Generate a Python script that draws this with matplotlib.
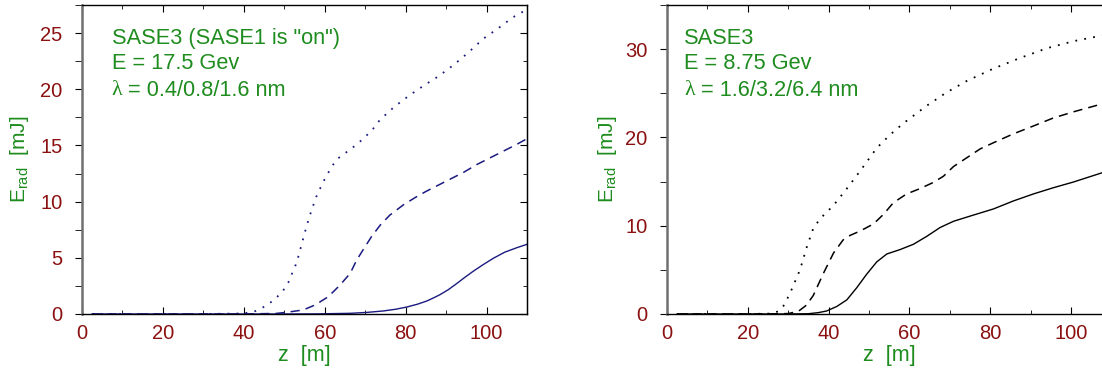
import numpy as np
import matplotlib.pyplot as plt
from matplotlib.ticker import MultipleLocator

plt.rcParams['font.family'] = ['Liberation Sans', 'DejaVu Sans']

# left panel: SASE3 with SASE1 on, E = 17.5 GeV
zl_dot = [2.5, 30, 40, 42.8, 44.8, 46.9, 49.4, 51.0, 53.1, 54.6, 55.5, 56.8, 58.0, 59.7, 61.7, 63.1, 65.0, 66.7,
          68.6, 70.4, 72.0, 73.7, 77.4, 81.1, 84.8, 88.3, 92.0, 95.6, 99.2, 102.8, 106.5, 110]
el_dot = [0, 0, 0.05, 0.25, 0.6, 1.1, 1.9, 2.8, 4.6, 6.6, 7.8, 9.3, 10.5, 11.8, 13.1, 13.8, 14.3, 14.75,
          15.3, 15.9, 16.5, 17.3, 18.5, 19.5, 20.4, 21.2, 22.2, 23.3, 24.5, 25.4, 26.4, 27.1]
zl_dash = [2.5, 40, 48, 50.6, 54.7, 57.6, 60.9, 63.8, 66.3, 67.9, 70.0, 71.6, 73.7, 76.1, 79.4, 82.3,
           85.0, 88.0, 91.0, 94.3, 97.6, 100.9, 104.2, 107.5, 110]
el_dash = [0, 0, 0.05, 0.15, 0.36, 0.8, 1.54, 2.58, 3.62, 4.8, 6.0, 6.9, 7.9, 8.8, 9.7, 10.35,
           10.9, 11.45, 12.0, 12.6, 13.3, 13.9, 14.5, 15.1, 15.6]
zl_sol = [2.5, 50, 58, 66.3, 70.4, 74.5, 77.5, 80.3, 83.0, 85.2, 87.0, 88.5, 90.5, 92.6, 94.6, 96.7, 99.2,
          101.7, 104.5, 107.5, 110]
el_sol = [0, 0, 0.01, 0.06, 0.14, 0.27, 0.42, 0.62, 0.88, 1.15, 1.45, 1.72, 2.15, 2.7, 3.25, 3.8, 4.4,
          4.96, 5.5, 5.9, 6.2]

# right panel: SASE3, E = 8.75 GeV
zr_dot = [2.5, 20, 26.0, 27.5, 28.8, 30.4, 32.9, 34.6, 36.2, 37.9, 41.2, 44.5, 47.8, 51.9, 55.2, 58.5,
          64.3, 69.2, 74.2, 80.8, 87.4, 94.0, 100.6, 107.2, 110]
er_dot = [0, 0, 0.05, 0.3, 0.9, 2.3, 5.0, 7.6, 9.7, 10.8, 12.3, 14.2, 16.2, 18.8, 20.3, 21.6,
          23.6, 25.1, 26.4, 27.8, 29.0, 30.1, 30.9, 31.5, 31.7]
zr_dash = [2.5, 25, 30, 32.5, 34.5, 36.2, 38.7, 41.2, 43.6, 45.3, 47.8, 51.1, 53.6, 56.0, 59.3, 62.6,
           65.9, 68.4, 70.9, 74.2, 77.5, 80.8, 85.7, 90.7, 95.6, 100.6, 107.7, 110]
er_dash = [0, 0, 0.05, 0.3, 1.0, 2.1, 4.6, 6.9, 8.4, 8.9, 9.4, 10.2, 11.3, 12.6, 13.6, 14.2,
           14.9, 15.6, 16.7, 17.7, 18.7, 19.4, 20.4, 21.3, 22.2, 22.9, 23.8, 24.1]
zr_sol = [2.5, 30, 35, 37.4, 39.5, 42.0, 44.5, 47.0, 49.4, 51.9, 54.4, 57.7, 61.0, 64.3, 67.6, 70.9,
          75.8, 80.8, 85.7, 90.7, 95.6, 100.6, 107.7, 110]
er_sol = [0, 0, 0.03, 0.15, 0.34, 0.85, 1.6, 3.0, 4.5, 5.9, 6.8, 7.3, 7.9, 8.8, 9.8, 10.5,
          11.2, 11.9, 12.8, 13.6, 14.3, 14.95, 16.0, 16.4]

red = '#8b1111'
green = '#1e8c1e'
navy = '#1a1a80'

fig = plt.figure(figsize=(11.02, 3.75), dpi=100)
ax1 = fig.add_axes([0.0744, 0.1627, 0.4038, 0.824])
ax2 = fig.add_axes([0.6053, 0.1627, 0.4033, 0.824])


def style(ax, ymax, ymaj, ymin, ylab_x):
    ax.set_xlim(0, 110)
    ax.set_ylim(0, ymax)
    ax.xaxis.set_major_locator(MultipleLocator(20))
    ax.xaxis.set_minor_locator(MultipleLocator(10))
    ax.yaxis.set_major_locator(MultipleLocator(ymaj))
    ax.yaxis.set_minor_locator(MultipleLocator(ymin))
    ax.tick_params(axis='x', which='both', direction='in', top=True,
                   labelcolor=red, labelsize=14.5, pad=7)
    ax.tick_params(axis='x', which='major', length=5)
    ax.tick_params(axis='x', which='minor', length=3)
    ax.tick_params(axis='y', which='both', direction='out', left=True, right=False, length=5,
                   labelcolor=red, labelsize=14.5, pad=9)
    ax.spines['left'].set_color('#707070')
    ax.spines['left'].set_linewidth(1.8)
    for s in ['top', 'bottom', 'right']:
        ax.spines[s].set_linewidth(1.0)
    # inward ticks on the right side
    sec = ax.secondary_yaxis('right')
    sec.yaxis.set_major_locator(MultipleLocator(ymaj))
    sec.yaxis.set_minor_locator(MultipleLocator(ymin))
    sec.tick_params(which='both', direction='in', labelright=False)
    sec.tick_params(which='major', length=5)
    sec.tick_params(which='minor', length=3)
    ax.set_xlabel('z  [m]', color=green, fontsize=15.5)
    ax.set_ylabel(r'E$_\mathregular{rad}$  [mJ]', color=green, fontsize=15)
    ax.xaxis.set_label_coords(0.5, -0.1)
    ax.yaxis.set_label_coords(ylab_x, 0.5)


def note(ax, x, lines):
    ys = [0.893, 0.81, 0.723]
    ax.text(x, ys[0], lines[0], transform=ax.transAxes, color=green, fontsize=15.7, va='center')
    ax.text(x, ys[1], lines[1], transform=ax.transAxes, color=green, fontsize=15.7, va='center')
    lam = ax.text(x, ys[2], 'λ', transform=ax.transAxes, color=green, fontsize=15.7, va='center',
                  family=['Liberation Serif', 'DejaVu Serif'])
    ax.annotate(lines[2], xy=(1, 0.5), xycoords=lam, va='center', color=green, fontsize=15.7)


style(ax1, 27.5, 5, 2.5, -0.115)
ax1.plot(zl_sol, el_sol, color=navy, lw=1.0)
ax1.plot(zl_dash, el_dash, color=navy, lw=1.1, ls=(0, (6, 4)))
ax1.plot(zl_dot, el_dot, color=navy, lw=1.3, ls=(0, (1, 4)))
note(ax1, 0.067, ['SASE3 (SASE1 is "on")', 'E = 17.5 Gev', ' = 0.4/0.8/1.6 nm'])

style(ax2, 35, 10, 5, -0.108)
ax2.plot(zr_sol, er_sol, color='black', lw=1.0)
ax2.plot(zr_dash, er_dash, color='black', lw=1.1, ls=(0, (6, 4)))
ax2.plot(zr_dot, er_dot, color='black', lw=1.3, ls=(0, (1, 4)))
note(ax2, 0.038, ['SASE3', 'E = 8.75 Gev', ' = 1.6/3.2/6.4 nm'])

plt.savefig('out.png', dpi=100)
